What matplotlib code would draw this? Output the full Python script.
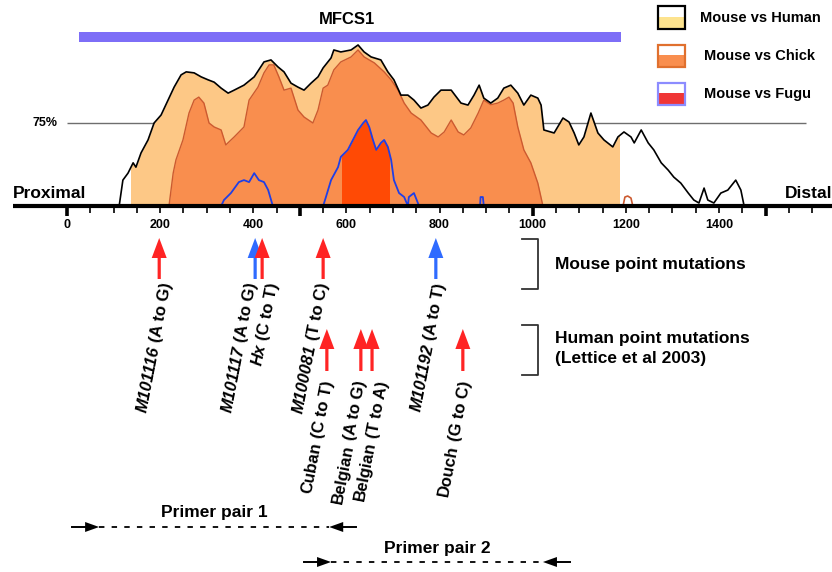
import numpy as np
import matplotlib
matplotlib.use('Agg')
import matplotlib.pyplot as plt
from matplotlib.patches import Rectangle, Polygon

plt.rcParams['font.family'] = ['Liberation Sans', 'DejaVu Sans']

# ---------------- data ----------------
human_pos = [112, 120, 131, 142, 148, 159, 174, 187, 202, 217, 230, 245, 256, 273, 288, 303, 316,
             331, 346, 359, 380, 402, 423, 438, 453, 466, 481, 496, 509, 524, 539, 550, 567, 573,
             588, 610, 625, 638, 653, 674, 689, 702, 717, 732, 745, 760, 775, 788, 803, 825, 846,
             861, 874, 885, 895, 910, 925, 938, 953, 968, 981, 996, 1011, 1018, 1024, 1046, 1065,
             1078, 1089, 1099, 1110, 1125, 1140, 1153, 1172, 1183, 1196, 1211, 1218, 1233, 1248,
             1260, 1276, 1291, 1303, 1318, 1334, 1346, 1357, 1368, 1376, 1389, 1404, 1419, 1436,
             1447, 1454]
human_pct = [50, 57.8, 59.9, 63.0, 61.7, 66.0, 69.9, 75.0, 77.4, 81.9, 85.8, 89.5, 90.4, 90.1, 88.9,
             88.0, 87.3, 85.5, 84.0, 84.9, 86.4, 88.9, 93.4, 94.0, 91.9, 90.4, 87.0, 85.8, 84.9, 87.0,
             88.9, 91.6, 94.6, 97.0, 96.4, 97.0, 98.5, 96.4, 94.9, 94.0, 90.4, 88.0, 83.4, 83.4, 81.9,
             79.5, 80.4, 82.8, 84.9, 84.9, 81.0, 80.4, 83.4, 86.4, 82.5, 81.0, 82.5, 85.5, 86.4, 84.0,
             80.4, 83.4, 82.5, 80.4, 72.9, 72.0, 76.5, 75.3, 72.0, 68.4, 70.8, 78.0, 72.0, 69.9, 67.8,
             70.8, 72.3, 70.8, 69.0, 72.9, 69.0, 66.9, 63.0, 60.8, 58.7, 56.9, 53.9, 51.8, 50.9, 55.4,
             51.8, 50.9, 53.9, 54.8, 57.8, 54.8, 50]

chick_pos = [219, 228, 234, 249, 262, 273, 283, 294, 305, 316, 331, 341, 359, 380, 391, 410, 423,
             434, 444, 455, 466, 481, 496, 509, 528, 539, 550, 560, 573, 588, 610, 625, 638, 660,
             681, 696, 711, 724, 739, 760, 782, 797, 810, 825, 840, 852, 867, 883, 895, 910, 925,
             938, 949, 958, 968, 981, 996, 1011, 1022]
chick_pct = [50, 59.9, 63.9, 69.9, 78.0, 81.9, 82.8, 81.0, 75.0, 73.8, 72.9, 68.4, 70.8, 73.8, 81.9,
             85.8, 90.1, 92.5, 92.5, 88.9, 84.9, 85.5, 78.9, 76.8, 75.0, 78.9, 85.5, 86.4, 91.0, 93.4,
             94.9, 97.0, 94.9, 93.1, 90.4, 88.0, 84.9, 81.0, 78.0, 75.9, 72.0, 70.8, 72.3, 75.9, 72.3,
             71.4, 73.5, 78.0, 81.9, 80.5, 81.0, 81.9, 82.8, 81.0, 73.8, 66.9, 63.0, 56.9, 50]
chick2_pos = [1194, 1198, 1204, 1211, 1215]
chick2_pct = [50, 52.7, 53.0, 52.4, 50]

fugu_pos = [331, 337, 352, 369, 380, 391, 402, 412, 423, 432, 442,
            550, 556, 567, 582, 588, 603, 614, 625, 636, 642, 649, 657, 664, 674, 681, 689, 696,
            702, 713, 724, 732, 734, 745, 756, 887, 888, 893, 895]
fugu_pct = [50, 51.8, 53.9, 57.2, 57.8, 57.2, 59.9, 57.8, 57.2, 54.8, 50,
            50, 52.7, 57.8, 61.7, 64.8, 66.9, 69.9, 72.9, 75.0, 75.9, 73.8, 69.9, 66.9, 69.0, 69.9,
            67.8, 63.9, 57.8, 53.9, 52.7, 50, 52.7, 53.9, 50, 50, 52.7, 52.7, 50]

human_cns = (137, 1185)
fugu_cns = (590, 691)
mfcs1 = (25, 1190)
threshold = 75

tick_values = [0, 200, 400, 600, 800, 1000, 1200, 1400]

mouse_names = ["M101116", "M101117", "Hx", "M100081", "M101192"]
mouse_changes = ["A to G", "A to G", "C to T", "T to C", "A to T"]
mouse_pos = [198, 404, 419, 550, 792]
mouse_group = ["red", "blue", "red", "red", "blue"]

human_names = ["Cuban", "Belgian", "Belgian", "Douch"]
human_changes = ["C to T", "A to G", "T to A", "G to C"]
human_pos_mut = [558, 631, 655, 850]

primer_names = ["Primer pair 1", "Primer pair 2"]
primer_spans = [(11, 621), (509, 1080)]

legend_labels = ["Mouse vs Human", "Mouse vs Chick", "Mouse vs Fugu"]

# ---------------- layout helpers (pixel -> data) ----------------
W, H = 832, 572
X0, SX = 67.0, 0.4657
Y0, SY = 206.0, 3.32
def X(px): return (px - X0) / SX
def Y(py): return 50 + (Y0 - py) / SY
def DX(px): return px / SX
def DY(py): return py / SY

C_LIGHT = '#FDC886'
C_CHICK = '#F98E4E'
C_CHICK_LINE = '#CC5A30'
C_FUGU = '#FF4A05'
C_BLUE = '#1F3FE6'
C_BAR = '#7D6EF7'
ARROW_C = {"red": '#FF2424', "blue": '#2F6BFF'}

fig = plt.figure(figsize=(W / 100, H / 100), dpi=100)
ax = fig.add_axes([0, 0, 1, 1])
ax.set_xlim(X(0), X(W))
ax.set_ylim(Y(H), Y(0))
ax.axis('off')

# threshold line
ax.hlines(threshold, 0, 1587, color='#6E6E6E', lw=1.0, zorder=1)
ax.text(X(45), threshold, "75%", fontsize=9, fontweight='bold', ha='center', va='center')

# fills
hf = ax.fill_between(human_pos, 50, human_pct, color=C_LIGHT, lw=0, zorder=2)
hf.set_clip_path(Rectangle((human_cns[0], 40), human_cns[1] - human_cns[0], 70,
                           transform=ax.transData))
ax.fill_between(chick_pos, 50, chick_pct, color=C_CHICK, lw=0, zorder=3)
ff = ax.fill_between(fugu_pos, 50, fugu_pct, color=C_FUGU, lw=0, zorder=6)
ff.set_clip_path(Rectangle((fugu_cns[0], 40), fugu_cns[1] - fugu_cns[0], 70,
                           transform=ax.transData))

# lines
ax.plot(chick_pos, chick_pct, color=C_CHICK_LINE, lw=1.0, zorder=4)
ax.plot(chick2_pos, chick2_pct, color=C_CHICK_LINE, lw=1.2, zorder=4)
ax.plot(human_pos, human_pct, color='black', lw=1.2, zorder=5)
ax.plot(fugu_pos, fugu_pct, color=C_BLUE, lw=1.3, zorder=7)

# baseline axis and ticks
ax.hlines(50, X(13), X(W), color='black', lw=3.0, zorder=10)
minor = np.arange(0, 1601, 50)
major = [t for t in minor if t % 500 == 0]
ax.vlines([t for t in minor if t % 500 != 0], Y(207), Y(213), color='black', lw=1.2, zorder=10)
ax.vlines(major, Y(207), Y(216), color='black', lw=2.6, zorder=10)
for t in tick_values:
    ax.text(t, Y(225), str(t), fontsize=9, fontweight='bold', ha='center', va='center')
ax.text(X(13), Y(194), "Proximal", fontsize=12.5, fontweight='bold', ha='left', va='center')
ax.text(X(832), Y(194), "Distal", fontsize=12.5, fontweight='bold', ha='right', va='center')

# MFCS1 bar
ax.add_patch(Rectangle((mfcs1[0], Y(42)), mfcs1[1] - mfcs1[0], DY(10), color=C_BAR, lw=0, zorder=3))
ax.text(X(347), Y(19), "MFCS1", fontsize=12, fontweight='bold', ha='center', va='center')

# legend
leg_style = [('black', '#FDE38E'), ('#E0702E', '#F98E4E'), ('#8C8CFF', '#F03636')]
leg_y = [(6, 29), (45, 67), (83, 105)]
leg_tx = [700, 704, 704]
for (ec, fc), (ya, yb), tx, lab in zip(leg_style, leg_y, leg_tx, legend_labels):
    mid = ya + (yb - ya) * 0.47
    ax.add_patch(Rectangle((X(658), Y(yb)), DX(27), DY(yb - mid), facecolor=fc, lw=0, zorder=3))
    ax.add_patch(Rectangle((X(658), Y(yb)), DX(27), DY(yb - ya), facecolor='none',
                           edgecolor=ec, lw=1.6, zorder=4))
    ax.text(X(tx), Y((ya + yb) / 2), lab, fontsize=10.5, fontweight='bold', ha='left', va='center')

# mutation arrows
def up_arrow(x, tip, tail, color):
    ax.arrow(x, Y(tail), 0, Y(tip) - Y(tail), width=DX(3.2), head_width=DX(15),
             head_length=DY(20), length_includes_head=True, color=color, lw=0, zorder=5)

for x, g in zip(mouse_pos, mouse_group):
    up_arrow(x, 238, 279, ARROW_C[g])
for x in human_pos_mut:
    up_arrow(x, 329, 371, ARROW_C["red"])

# rotated labels
ROT = 79
FS = 12
fig.canvas.draw()
renderer = fig.canvas.get_renderer()

def measure(s, **kw):
    t = ax.text(0, 0, s, **kw)
    w = t.get_window_extent(renderer).width
    t.remove()
    return w

def label(xa, ya, name, change, name_style):
    rest = " (%s)" % change
    kw = dict(fontsize=FS, fontweight='bold', rotation=ROT, rotation_mode='anchor',
              ha='right', va='center')
    ax.text(xa, ya, rest, **kw)
    w = measure(rest, fontsize=FS, fontweight='bold')
    p = ax.transData.transform((xa, ya))
    th = np.deg2rad(ROT)
    q = p - w * np.array([np.cos(th), np.sin(th)])
    qx, qy = ax.transData.inverted().transform(q)
    ax.text(qx, qy, name, style=name_style, **kw)

mouse_dx = [8, -3, 11, 0, 5]
for x, n, c, d in zip(mouse_pos, mouse_names, mouse_changes, mouse_dx):
    label(x + DX(d), Y(283), n, c, 'italic')
human_dx = [2, 0, 11, 3]
for x, n, c, d in zip(human_pos_mut, human_names, human_changes, human_dx):
    label(x + DX(d), Y(381), n, c, 'normal')

# brackets
for (ya, yb) in [(239, 289), (325, 375)]:
    ax.plot([X(522), X(538), X(538), X(522)], [Y(ya), Y(ya), Y(yb), Y(yb)],
            color='#333333', lw=1.3, zorder=3)
ax.text(X(555), Y(265), "Mouse point mutations", fontsize=12.5, fontweight='bold',
        ha='left', va='center')
ax.text(X(555), Y(338), "Human point mutations", fontsize=12.5, fontweight='bold',
        ha='left', va='center')
ax.text(X(555), Y(358), "(Lettice et al 2003)", fontsize=12.5, fontweight='bold',
        ha='left', va='center')

# primer pairs
prim_y = [527, 562]
prim_ty = [513, 549]
TAIL, HEAD, HW = 13, 14, 5
for (s, e), py, ty, name in zip(primer_spans, prim_y, prim_ty, primer_names):
    yy = Y(py)
    fb = s + DX(TAIL)
    ft = fb + DX(HEAD)
    rb = e - DX(TAIL)
    rt = rb - DX(HEAD)
    ax.plot([s, fb], [yy, yy], color='black', lw=1.4)
    ax.plot([rb, e], [yy, yy], color='black', lw=1.4)
    ax.plot([ft, rt], [yy, yy], color='black', lw=1.3, linestyle=(0, (3, 4)))
    ax.add_patch(Polygon([(fb, yy + DY(HW)), (fb, yy - DY(HW)), (ft, yy)], closed=True,
                         color='black', lw=0))
    ax.add_patch(Polygon([(rb, yy + DY(HW)), (rb, yy - DY(HW)), (rt, yy)], closed=True,
                         color='black', lw=0))
    ax.text((s + e) / 2, Y(ty), name, fontsize=12.5, fontweight='bold', ha='center', va='center')

fig.savefig('out.png', dpi=100)
